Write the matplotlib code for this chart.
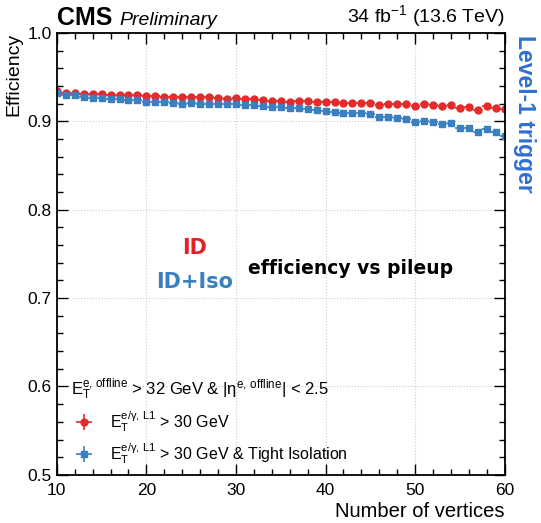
import numpy as np
import matplotlib
matplotlib.use("Agg")
from matplotlib import pyplot as plt
from matplotlib.ticker import MultipleLocator

plt.rcParams['font.family'] = ['Liberation Sans', 'DejaVu Sans']
plt.rcParams['mathtext.fontset'] = 'custom'
plt.rcParams['mathtext.rm'] = 'Liberation Sans'
plt.rcParams['mathtext.it'] = 'Liberation Sans:italic'

# number of reconstructed vertices
vertices = list(range(10, 61))

# efficiency, E_T(L1) > 30 GeV
eff_id = [0.9340, 0.9325, 0.9318, 0.9310, 0.9306, 0.9306, 0.9302, 0.9295, 0.9295, 0.9300,
          0.9287, 0.9290, 0.9280, 0.9280, 0.9272, 0.9280, 0.9272, 0.9272, 0.9261, 0.9257,
          0.9261, 0.9257, 0.9250, 0.9242, 0.9235, 0.9231, 0.9223, 0.9233, 0.9231, 0.9219,
          0.9219, 0.9215, 0.9212, 0.9212, 0.9212, 0.9204, 0.9189, 0.9200, 0.9197, 0.9195,
          0.9178, 0.9193, 0.9189, 0.9170, 0.9189, 0.9148, 0.9165, 0.9128, 0.9172, 0.9155,
          0.9140]
# efficiency, E_T(L1) > 30 GeV & tight isolation
eff_iso = [0.9317, 0.9299, 0.9299, 0.9272, 0.9261, 0.9261, 0.9257, 0.9250, 0.9242, 0.9242,
           0.9223, 0.9223, 0.9219, 0.9204, 0.9193, 0.9204, 0.9197, 0.9197, 0.9193, 0.9193,
           0.9193, 0.9186, 0.9186, 0.9174, 0.9167, 0.9159, 0.9152, 0.9152, 0.9144, 0.9129,
           0.9121, 0.9108, 0.9099, 0.9095, 0.9091, 0.9078, 0.9044, 0.9051, 0.9042, 0.9027,
           0.8997, 0.9002, 0.8997, 0.8967, 0.8976, 0.8923, 0.8923, 0.8878, 0.8912, 0.8880,
           0.8839]
err_id = [0.0008] * len(vertices)
err_iso = [0.0009] * len(vertices)

red = '#e42a2a'
blue = '#3a7fc0'

fig = plt.figure(figsize=(5.41, 5.23), dpi=100)
ax = fig.add_axes([0.105, 0.092, 0.828, 0.845])

ax.errorbar(vertices, eff_id, yerr=err_id, xerr=0.5, fmt='o', color=red, ms=5,
            elinewidth=1.2, capsize=0,
            label=r'$\mathrm{E}_\mathrm{T}^{\mathrm{e/\gamma,\,L1}}$ > 30 GeV')
ax.errorbar(vertices, eff_iso, yerr=err_iso, xerr=0.5, fmt='s', color=blue, ms=5,
            elinewidth=1.2, capsize=0,
            label=r'$\mathrm{E}_\mathrm{T}^{\mathrm{e/\gamma,\,L1}}$ > 30 GeV & Tight Isolation')

ax.set_xlim(10, 60)
ax.set_ylim(0.5, 1.0)
ax.xaxis.set_major_locator(MultipleLocator(10))
ax.xaxis.set_minor_locator(MultipleLocator(2))
ax.yaxis.set_major_locator(MultipleLocator(0.1))
ax.yaxis.set_minor_locator(MultipleLocator(0.02))
ax.tick_params(which='both', direction='in', top=True, right=True, labelsize=12.5)
ax.tick_params(axis='x', pad=6)
ax.tick_params(which='major', length=8, width=1)
ax.tick_params(which='minor', length=4, width=1)
for s in ax.spines.values():
    s.set_linewidth(1.3)
ax.grid(True, which='major', color='#cccccc', linestyle=':', linewidth=0.8)

ax.set_xlabel('Number of vertices', fontsize=14.5, loc='right', labelpad=3)
ax.set_ylabel('Efficiency', fontsize=14, loc='top', labelpad=4)

leg = ax.legend(loc='lower left', bbox_to_anchor=(0.0, -0.012), frameon=False, fontsize=11.5,
                title=r'$\mathrm{E}_\mathrm{T}^{\mathrm{e,\,offline}}$ > 32 GeV & |$\mathrm{\eta}^{\mathrm{e,\,offline}}$| < 2.5',
                title_fontsize=12, handlelength=1.6, labelspacing=0.45)
leg._legend_box.align = 'left'

ax.text(0.0, 1.006, 'CMS', transform=ax.transAxes, fontsize=18, fontweight='bold',
        ha='left', va='bottom')
ax.text(0.14, 1.008, 'Preliminary', transform=ax.transAxes, fontsize=14, style='italic',
        ha='left', va='bottom')
ax.text(1.0, 1.008, r'34 fb$^{-1}$ (13.6 TeV)', transform=ax.transAxes, fontsize=14,
        ha='right', va='bottom')

ax.text(1.043, 0.995, 'Level-1 trigger', transform=ax.transAxes, fontsize=16.5,
        fontweight='bold', color='#2e6fd0', rotation=-90, ha='center', va='top')

ax.text(0.308, 0.514, 'ID', transform=ax.transAxes, fontsize=15, fontweight='bold',
        family='DejaVu Sans', color='#e41f26', ha='center', va='center')
ax.text(0.308, 0.437, 'ID+Iso', transform=ax.transAxes, fontsize=15, fontweight='bold',
        family='DejaVu Sans', color=blue, ha='center', va='center')
ax.text(0.655, 0.468, 'efficiency vs pileup', transform=ax.transAxes, fontsize=13.5,
        fontweight='bold', family='DejaVu Sans', color='black', ha='center', va='center')

fig.savefig('out.png', dpi=100)
